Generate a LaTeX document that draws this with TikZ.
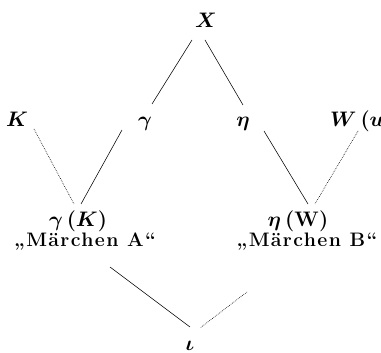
\RequirePackage{fix-cm}
\documentclass[tikz,border=0pt]{standalone}
\usepackage{fontspec}
\setmainfont{Latin Modern Roman}
\newfontfamily\spacedfont{Latin Modern Roman}[LetterSpace=7]
\begin{document}
\begin{tikzpicture}[x=1pt,y=-1pt,
  lbl/.style={inner sep=0pt,anchor=base,font=\fontsize{21}{25}\selectfont\boldmath},
  tale/.style={inner sep=0pt,anchor=base,font=\fontsize{19.5}{23}\selectfont\spacedfont\bfseries},
  link/.style={line width=0.55pt},
  weak/.style={line width=0.6pt,dash pattern=on 0.7pt off 1.1pt}]
\useasboundingbox (0,0) rectangle (381,353);
\clip (0,0) rectangle (381,353);
% labels
\node[lbl] (X) at (206,28) {$X$};
\node[lbl] (K) at (17,127) {$K$};
\node[lbl] (g) at (145,127) {$\gamma$};
\node[lbl] (e) at (243,127) {$\eta$};
\node[lbl,anchor=base west] (W) at (330,127) {$W\,(u$};
\node[lbl] (gK) at (78,226) {$\gamma\,(K)$};
\node[tale] (A) at (85,247) {„Märchen A“};
\node[lbl] (eW) at (298,226) {$\eta\,(\mathbf{W})$};
\node[tale] (B) at (307,247) {„Märchen B“};
\node[lbl] (i) at (190,350) {$\iota$};
% connectors
\draw[link] ([shift={(-14,12)}]X.base) -- ([shift={(7,-23)}]g.base);
\draw[link] ([shift={(-1,12)}]X.base) -- ([shift={(0,-22)}]e.base);
\draw[weak] ([shift={(17,2)}]K.base) -- ([shift={(-4,-22)}]gK.base);
\draw[link] ([shift={(-23,3)}]g.base) -- ([shift={(3,-22)}]gK.base);
\draw[link] ([shift={(21,4)}]e.base) -- ([shift={(10,-22)}]eW.base);
\draw[weak] ([shift={(28,4)}]W.base west) -- ([shift={(17,-22)}]eW.base);
\draw[link] ([shift={(25,20)}]A.base) -- ([shift={(0,-23)}]i.base);
\draw[weak] ([shift={(-60,45)}]B.base) -- ([shift={(10,-22)}]i.base);
\end{tikzpicture}
\end{document}
